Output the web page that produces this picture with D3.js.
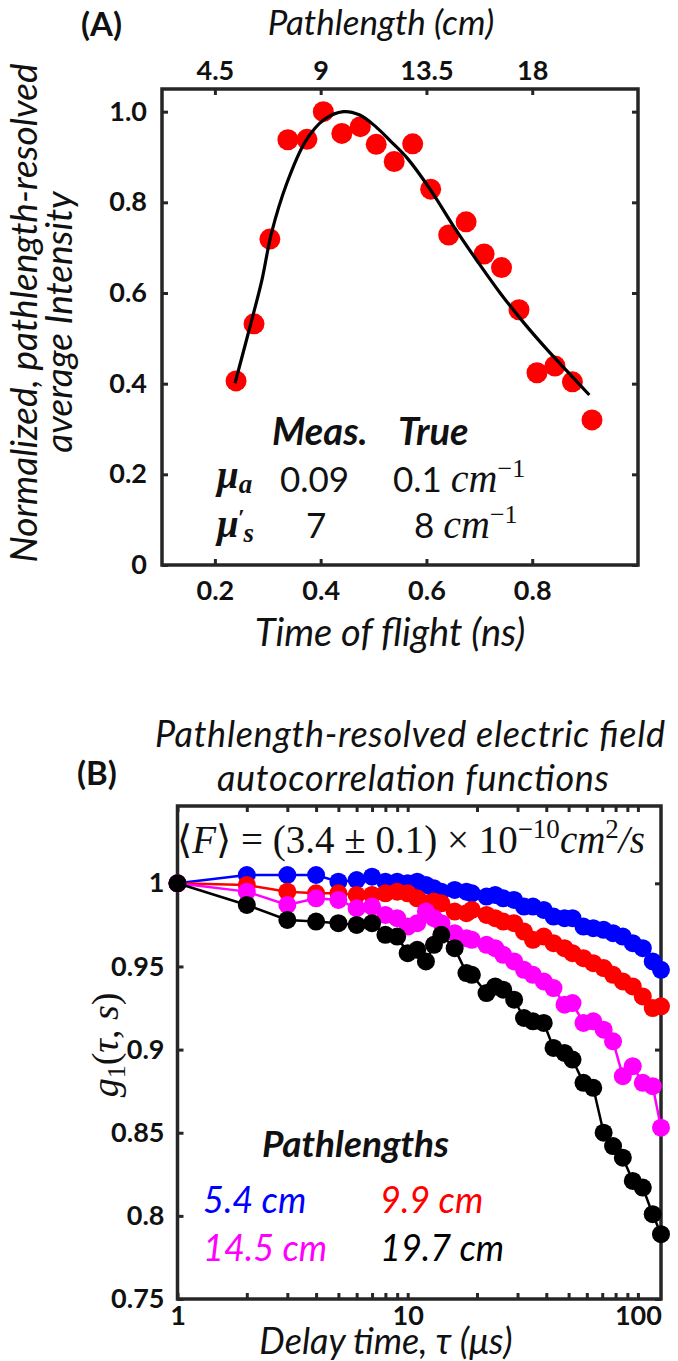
<!DOCTYPE html>
<html><head><meta charset="utf-8">
<script src="https://cdn.jsdelivr.net/npm/d3@7"></script>
<style>
body{margin:0;background:#fff;}
svg{display:block;}
text{font-family:Lato,"Open Sans",sans-serif;fill:#111;}
.math{font-family:"Liberation Serif","DejaVu Serif",serif;}
</style></head><body>
<svg id="fig" width="678" height="1361"></svg>
<script>
// ---------- Panel A: pathlength-resolved average intensity ----------
const tofTime = [0.240,0.274,0.304,0.338,0.374,0.405,0.440,0.475,0.505,0.539,0.574,
                 0.608,0.642,0.675,0.709,0.742,0.775,0.809,0.843,0.876,0.913];
const tofIntensity = [0.406,0.532,0.719,0.938,0.939,1.000,0.952,0.967,0.928,0.890,0.929,
                      0.829,0.728,0.757,0.686,0.656,0.563,0.424,0.439,0.404,0.320];
const fitTime = [0.238,0.273,0.289,0.307,0.336,0.371,0.406,0.443,0.473,0.504,0.533,
                 0.564,0.608,0.652,0.697,0.740,0.785,0.829,0.873,0.908];
const fitIntensity = [0.401,0.555,0.629,0.732,0.842,0.934,0.982,1.000,0.993,0.967,0.934,
                      0.897,0.827,0.746,0.669,0.599,0.533,0.474,0.419,0.375];
const timeTicks = [0.2,0.4,0.6,0.8];
const intensityTicks = [0,0.2,0.4,0.6,0.8,1.0];
const pathTicks = [4.5,9,13.5,18];

// ---------- Panel B: electric field autocorrelation ----------
const tau = [1,2,3,4,5,6,7,8,9,10,11,12,13,14,16,18,19,22,24,26,29,32,35,39,43,48,52,58,64,71,78,86,95,105,116,126];
const g1_5_4 = [1.000,1.005,1.005,1.005,1.001,1.002,1.004,1.001,1.001,1.000,1.001,0.999,0.997,0.995,0.996,0.995,0.994,0.992,
                0.993,0.991,0.990,0.986,0.986,0.984,0.980,0.979,0.979,0.974,0.973,0.972,0.970,0.968,0.964,0.961,0.953,0.948];
const g1_9_9 = [1.000,0.999,0.995,0.994,0.994,0.993,0.993,0.994,0.995,0.994,0.991,0.988,0.989,0.988,0.983,0.982,0.984,0.981,
                0.979,0.977,0.976,0.971,0.966,0.968,0.964,0.961,0.958,0.955,0.952,0.949,0.945,0.941,0.938,0.932,0.925,0.926];
const g1_14_5 = [1.000,0.995,0.987,0.991,0.990,0.985,0.986,0.981,0.979,0.974,0.976,0.983,0.979,0.976,0.970,0.967,0.966,0.963,
                 0.961,0.957,0.953,0.948,0.945,0.941,0.937,0.927,0.928,0.916,0.917,0.912,0.905,0.884,0.890,0.880,0.878,0.853];
const g1_19_7 = [1.000,0.987,0.978,0.977,0.976,0.975,0.976,0.969,0.968,0.958,0.960,0.953,0.963,0.969,0.961,0.946,0.945,0.934,
                 0.938,0.936,0.930,0.919,0.917,0.916,0.901,0.898,0.894,0.880,0.877,0.850,0.842,0.835,0.821,0.817,0.801,0.789];
const pathLabels = ["5.4 cm","9.9 cm","14.5 cm","19.7 cm"];
const pathColors = ["#0000ff","#ff0000","#ff00ff","#000000"];
const g1Series = [g1_5_4, g1_9_9, g1_14_5, g1_19_7];
const tauMajor = [1,10,100];
const tauMinor = [2,3,4,5,6,7,8,9,20,30,40,50,60,70,80,90];
const g1Ticks = [0.75,0.8,0.85,0.9,0.95,1];

const svg = d3.select("#fig");
const axisColor = "#262626";
const labelSize = 38;

function styleAxis(sel, size){
  sel.select(".domain").remove();
  sel.selectAll(".tick line").attr("stroke", axisColor).attr("stroke-width", 3);
  sel.selectAll(".tick text").attr("fill","#1a1a1a")
     .style("font-family","Lato").style("font-weight","700").style("font-size", size+"px");
}
function italicLabel(x, y, txt, opts = {}){
  const t = svg.append("text").attr("text-anchor", opts.anchor || "middle")
    .style("font-style","italic").style("font-size", (opts.size || labelSize)+"px").text(txt);
  if (opts.rotate) t.attr("transform",`translate(${x},${y}) rotate(-90)`);
  else t.attr("x",x).attr("y",y);
  if (opts.length) t.attr("textLength", opts.length).attr("lengthAdjust","spacing");
  return t;
}

// ===== Panel A =====
const A = {l:162, r:638, t:89, b:565};
const xA = d3.scaleLinear().domain([0.1,1.0]).range([A.l,A.r]);
const yA = d3.scaleLinear().domain([0,1.05]).range([A.b,A.t]);
const xAtop = d3.scaleLinear().domain([2.25,22.5]).range([A.l,A.r]);

const gA = svg.append("g");
gA.append("g").attr("transform",`translate(0,${A.b})`)
  .call(d3.axisBottom(xA).tickValues(timeTicks).tickSize(-6).tickPadding(16).tickFormat(d3.format(".1f")))
  .call(styleAxis, 27);
gA.append("g").attr("transform",`translate(${A.l},0)`)
  .call(d3.axisLeft(yA).tickValues(intensityTicks).tickSize(-6).tickPadding(15)
        .tickFormat(d => d === 0 ? "0" : d3.format(".1f")(d)))
  .call(styleAxis, 27);
gA.append("g").attr("transform",`translate(0,${A.t})`)
  .call(d3.axisTop(xAtop).tickValues(pathTicks).tickSize(-6).tickPadding(9).tickFormat(d3.format("~g")))
  .call(styleAxis, 27);
gA.append("g").attr("transform",`translate(${A.r},0)`)
  .call(d3.axisRight(yA).tickValues(intensityTicks).tickSize(-6).tickFormat(""))
  .call(styleAxis, 27);
gA.append("rect").attr("x",A.l).attr("y",A.t).attr("width",A.r-A.l).attr("height",A.b-A.t)
  .attr("fill","none").attr("stroke",axisColor).attr("stroke-width",3.5);

gA.append("g").selectAll("circle").data(tofTime).join("circle")
  .attr("cx", d => xA(d)).attr("cy", (d,i) => yA(tofIntensity[i])).attr("r", 10.5)
  .attr("fill","#ff0000");
const fitLine = d3.line().x(d => xA(d[0])).y(d => yA(d[1])).curve(d3.curveCatmullRom);
gA.append("path").datum(fitTime.map((t,i)=>[t,fitIntensity[i]]))
  .attr("d", fitLine).attr("fill","none").attr("stroke","#000").attr("stroke-width",3.2);

// labels A
svg.append("text").attr("x",81).attr("y",36).style("font-weight","700").style("font-size","33px").text("(A)");
italicLabel(381, 35, "Pathlength (cm)", {size:35});
italicLabel(390, 646, "Time of flight (ns)");
italicLabel(37, 313, "Normalized, pathlength-resolved", {size:37, rotate:true});
italicLabel(72, 322, "average Intensity", {size:37, rotate:true});

// optical property table
const tbl = svg.append("g");
tbl.append("text").attr("x",272).attr("y",445).style("font-weight","700").style("font-style","italic")
  .style("font-size","38px").text("Meas.");
tbl.append("text").attr("x",398).attr("y",445).style("font-weight","700").style("font-style","italic")
  .style("font-size","38px").text("True");
const mua = tbl.append("text").attr("class","math").attr("x",217).attr("y",488)
  .style("font-weight","700").style("font-style","italic").style("font-size","39px");
mua.append("tspan").text("μ");
mua.append("tspan").attr("dy",5).style("font-size","27px").text("a");
const mus = tbl.append("text").attr("class","math").attr("x",217).attr("y",537)
  .style("font-weight","700").style("font-style","italic").style("font-size","39px");
mus.append("tspan").text("μ");
mus.append("tspan").attr("dx",-1).attr("dy",-12).style("font-size","24px").text("′");
mus.append("tspan").attr("dx",-1).attr("dy",17).style("font-size","27px").text("s");
tbl.append("text").attr("x",280).attr("y",492).style("font-size","35px").text("0.09");
tbl.append("text").attr("x",306).attr("y",538).style("font-size","35px").text("7");
function unitText(x, y, num){
  const t = tbl.append("text").attr("x",x).attr("y",y).style("font-size","35px");
  t.append("tspan").text(num + " ");
  t.append("tspan").style("font-family","'Liberation Serif',serif").style("font-size","40px")
    .style("font-style","italic").text("cm");
  t.append("tspan").attr("dy",-15).style("font-family","'Liberation Serif',serif")
    .style("font-size","26px").text("−1");
}
unitText(393, 492, "0.1");
unitText(414, 538, "8");

// ===== Panel B =====
const B = {l:177.5, r:661, t:806, b:1299};
const xB = d3.scaleLog().domain([1,126]).range([B.l,B.r]);
const yB = d3.scaleLinear().domain([0.75,1.0465]).range([B.b,B.t]);
const tauAll = tauMajor.concat(tauMinor);

const gB = svg.append("g");
gB.append("g").attr("transform",`translate(0,${B.b})`)
  .call(d3.axisBottom(xB).tickValues(tauAll).tickSize(-6).tickPadding(7)
        .tickFormat(d => tauMajor.includes(d) ? String(d) : ""))
  .call(styleAxis, 27);
gB.append("g").attr("transform",`translate(0,${B.t})`)
  .call(d3.axisTop(xB).tickValues(tauAll).tickSize(-6).tickFormat(""))
  .call(styleAxis, 27);
gB.append("g").attr("transform",`translate(${B.l},0)`)
  .call(d3.axisLeft(yB).tickValues(g1Ticks).tickSize(-6).tickPadding(13).tickFormat(d3.format("~g")))
  .call(styleAxis, 27);
gB.append("g").attr("transform",`translate(${B.r},0)`)
  .call(d3.axisRight(yB).tickValues(g1Ticks).tickSize(-6).tickFormat(""))
  .call(styleAxis, 27);
gB.append("rect").attr("x",B.l).attr("y",B.t).attr("width",B.r-B.l).attr("height",B.b-B.t)
  .attr("fill","none").attr("stroke",axisColor).attr("stroke-width",3.5);

const g1Line = d3.line().x(d => xB(d[0])).y(d => yB(d[1]));
g1Series.forEach((vals, k) => {
  const pts = tau.map((t,i) => [t, vals[i]]);
  const s = gB.append("g");
  s.append("path").datum(pts).attr("d", g1Line).attr("fill","none")
    .attr("stroke", pathColors[k]).attr("stroke-width", 2.5);
  s.selectAll("circle").data(pts).join("circle")
    .attr("cx", d => xB(d[0])).attr("cy", d => yB(d[1])).attr("r", 9)
    .attr("fill", pathColors[k]);
});

// labels B
svg.append("text").attr("x",77).attr("y",785).style("font-weight","700").style("font-size","33px").text("(B)");
italicLabel(410, 747, "Pathlength-resolved electric field", {size:36, length:510});
italicLabel(413, 791, "autocorrelation functions", {size:36, length:392});
italicLabel(386, 1354, "Delay time, τ (μs)", {size:36});

const yl = svg.append("text").attr("class","math").attr("transform","translate(118,1045) rotate(-90)")
  .attr("text-anchor","middle").style("font-size","38px");
yl.append("tspan").style("font-style","italic").text("g");
yl.append("tspan").attr("dy",7).style("font-size","26px").text("1");
yl.append("tspan").attr("dy",-7).text("(");
yl.append("tspan").style("font-style","italic").text("τ");
yl.append("tspan").text(", ");
yl.append("tspan").style("font-style","italic").text("s");
yl.append("tspan").text(")");

const fl = svg.append("text").attr("class","math").attr("x",177).attr("y",853).style("font-size","39px");
fl.append("tspan").text("⟨");
fl.append("tspan").style("font-style","italic").text("F");
fl.append("tspan").text("⟩ = (3.4 ± 0.1) × 10");
fl.append("tspan").attr("dy",-15).style("font-size","27px").text("−10");
fl.append("tspan").attr("dy",15).style("font-style","italic").text("cm");
fl.append("tspan").attr("dy",-15).style("font-size","27px").text("2");
fl.append("tspan").attr("dy",15).style("font-style","italic").text("/s");

svg.append("text").attr("x",262).attr("y",1157).style("font-weight","700").style("font-style","italic")
  .style("font-size","37px").text("Pathlengths");
const legPos = [[203,1213],[380,1213],[203,1261],[380,1261]];
pathLabels.forEach((lab,k) => {
  svg.append("text").attr("x",legPos[k][0]).attr("y",legPos[k][1])
    .style("font-style","italic").style("font-size","36px").style("fill",pathColors[k]).text(lab);
});
</script>
</body></html>
